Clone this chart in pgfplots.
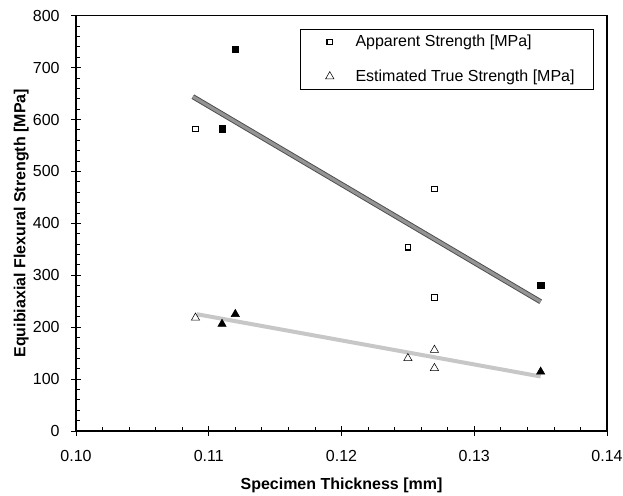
\documentclass[border=0pt]{standalone}
\usepackage{fontspec}
\setmainfont{Liberation Sans}
\usepackage{pgfplots}
\pgfplotsset{compat=1.18}
\begin{document}
\begin{tikzpicture}
\begin{axis}[
  name=ax,
  scale only axis,
  width=398.25pt, height=311.5pt,
  xmin=0.10, xmax=0.14, ymin=0, ymax=800,
  xtick={0.10,0.11,0.12,0.13,0.14},
  ytick={0,100,...,800},
  minor x tick num=4, minor y tick num=4,
  xtick pos=lower, ytick pos=left,
  tick align=center,
  major tick length=7.5pt,
  minor tick length=3pt,
  minor x tick style={yshift=1.5pt},
  minor y tick style={xshift=1.5pt},
  axis line style={line width=0.8pt},
  every tick/.style={black, line width=0.6pt},
  /pgf/number format/assume math mode=true,
  xticklabel style={/pgf/number format/fixed, /pgf/number format/precision=2, /pgf/number format/fixed zerofill, yshift=-7pt},
  yticklabel style={xshift=-5pt},
  tick label style={font=\fontsize{12}{14}\selectfont},
  scaled x ticks=false,
  xlabel={Specimen Thickness [mm]},
  ylabel={Equibiaxial Flexural Strength [MPa]},
  every axis x label/.style={at={(rel axis cs:0.5,0)}, anchor=center, yshift=-40.5pt, font=\fontsize{12}{14}\selectfont\bfseries},
  every axis y label/.style={at={(rel axis cs:0,0.5)}, anchor=center, xshift=-41pt, rotate=90, font=\fontsize{12}{14}\selectfont\bfseries},
  legend style={at={(0.4218,0.968)}, anchor=north west, draw=black, line width=0.6pt,
    font=\fontsize{12}{14}\selectfont, inner xsep=11.75pt, inner ysep=2.5pt, row sep=11.5pt, column sep=7pt},
  legend cell align=left,
  legend image code/.code={\path (-10pt,0pt) (10pt,0pt); \draw[#1] plot coordinates {(0pt,0pt)};},
]
% fit lines
\addplot[forget plot, draw=black!70, line width=3.8pt] coordinates {(0.1088,644) (0.1350,249)};
\addplot[forget plot, draw=black!42, line width=2.4pt] coordinates {(0.1088,644) (0.1350,249)};
\addplot[forget plot, draw=black!22, line width=3pt] coordinates {(0.1091,225) (0.1350,105)};
% filled series
\addplot[forget plot, only marks, mark=square*, mark size=2.4pt, mark options={fill=black, draw=black}] coordinates {(0.111,582) (0.112,735) (0.135,281)};
\addplot[forget plot, only marks, mark=triangle*, mark size=3.6pt, mark options={fill=black, draw=black}] coordinates {(0.111,206) (0.112,225) (0.135,114)};
% open series
\addplot[only marks, mark=square, mark size=2.1pt, mark options={draw=black, line width=0.8pt, fill=white}] coordinates {(0.109,582) (0.125,354) (0.127,466) (0.127,257)};
\addlegendentry{Apparent Strength [MPa]}
\addplot[only marks, mark=triangle, mark size=3.6pt, mark options={draw=black, line width=0.4pt, fill=white}] coordinates {(0.109,218) (0.125,140) (0.127,156) (0.127,121)};
\addlegendentry{Estimated True Strength [MPa]}
\end{axis}
\pgfresetboundingbox
\useasboundingbox (-57pt,-48pt) rectangle (410.25pt,323.25pt);
\end{tikzpicture}
\end{document}
